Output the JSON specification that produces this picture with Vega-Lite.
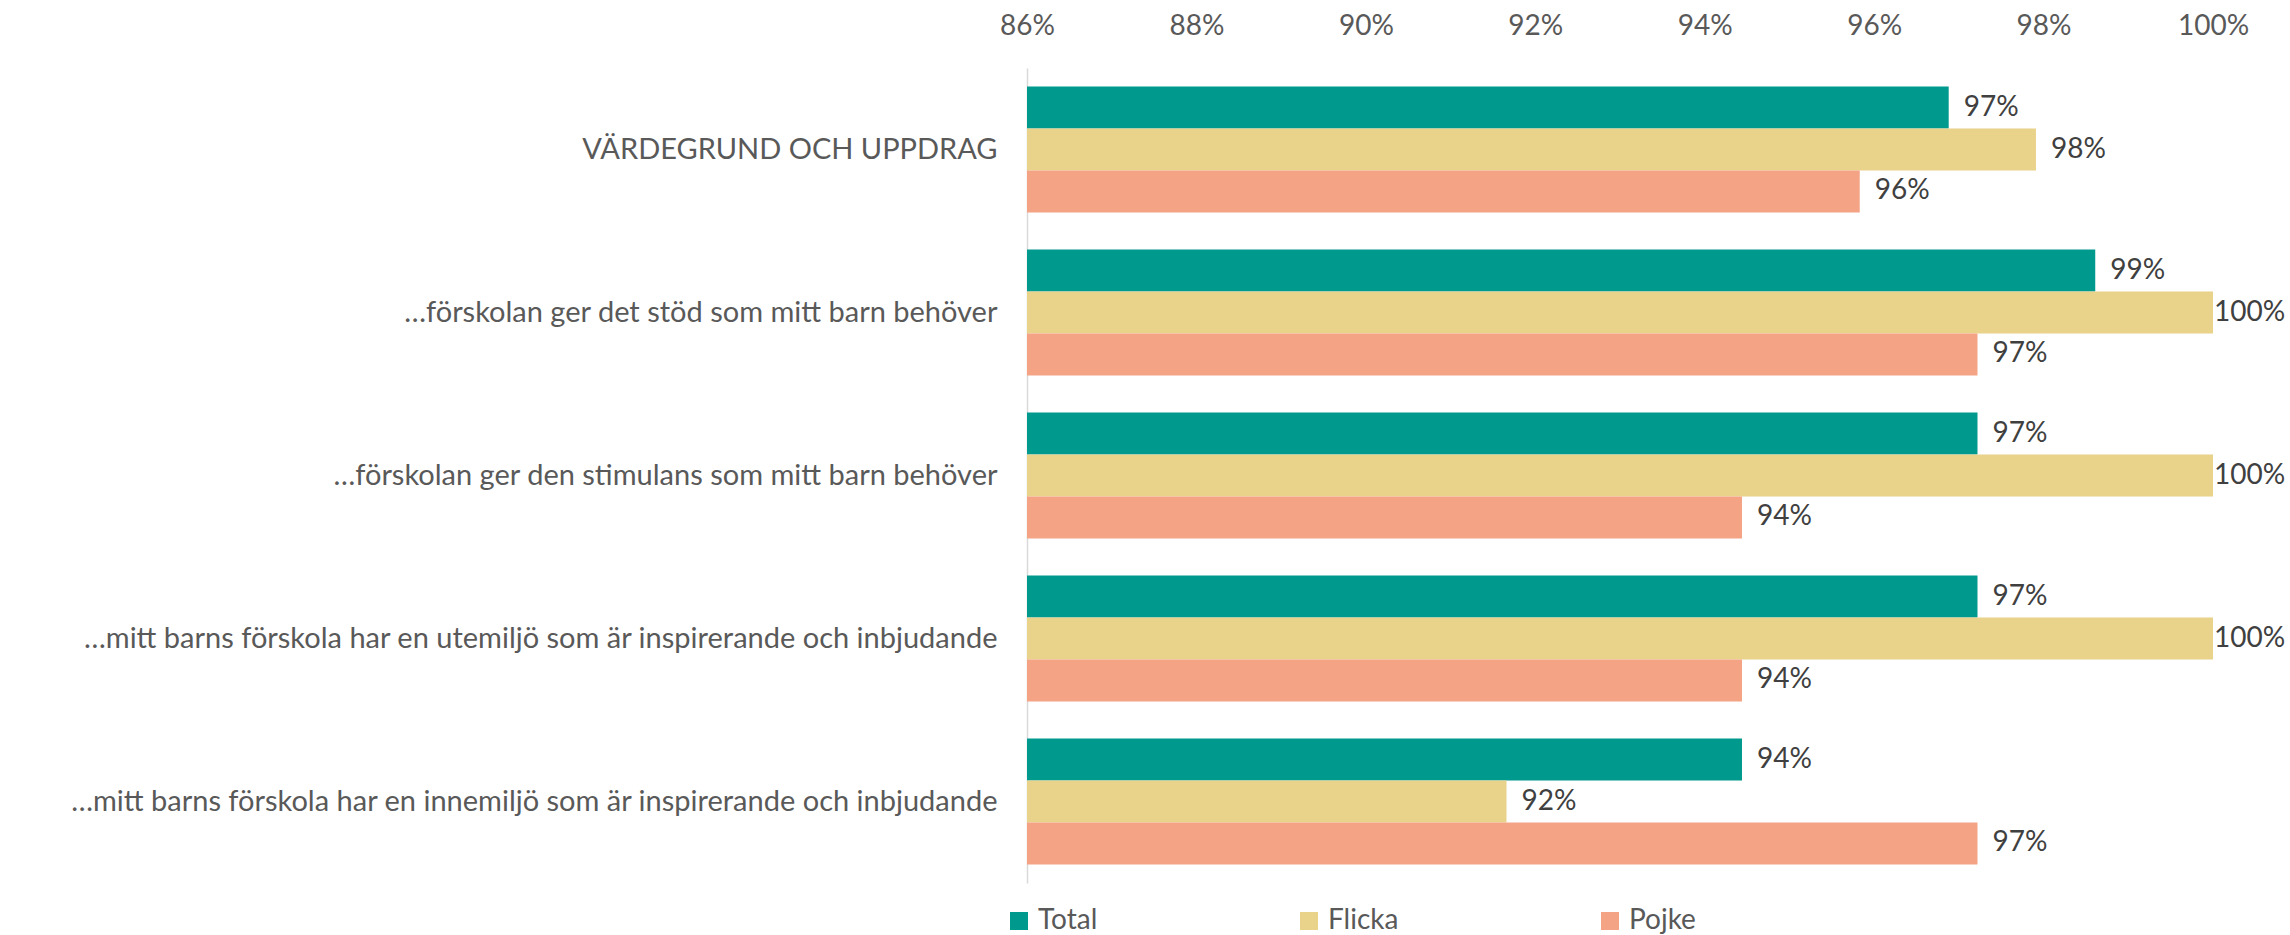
{
  "$schema": "https://vega.github.io/schema/vega-lite/v6.json",
  "autosize": "none",
  "width": 1186,
  "height": 815,
  "padding": {"left": 1027, "top": 68, "right": 77, "bottom": 52},
  "background": "white",
  "config": {
    "view": {"stroke": null},
    "font": "Lato",
    "axis": {"labelFont": "Lato", "labelColor": "#595959"},
    "legend": {"labelFont": "Lato"}
  },
  "data": {
    "values": [
      {"category": "VÄRDEGRUND OCH UPPDRAG", "series": "Total", "value": 0.9688},
      {"category": "VÄRDEGRUND OCH UPPDRAG", "series": "Flicka", "value": 0.9791},
      {"category": "VÄRDEGRUND OCH UPPDRAG", "series": "Pojke", "value": 0.9583},
      {"category": "…förskolan ger det stöd som mitt barn behöver", "series": "Total", "value": 0.9861},
      {"category": "…förskolan ger det stöd som mitt barn behöver", "series": "Flicka", "value": 1.0},
      {"category": "…förskolan ger det stöd som mitt barn behöver", "series": "Pojke", "value": 0.9722},
      {"category": "…förskolan ger den stimulans som mitt barn behöver", "series": "Total", "value": 0.9722},
      {"category": "…förskolan ger den stimulans som mitt barn behöver", "series": "Flicka", "value": 1.0},
      {"category": "…förskolan ger den stimulans som mitt barn behöver", "series": "Pojke", "value": 0.9444},
      {"category": "…mitt barns förskola har en utemiljö som är inspirerande och inbjudande", "series": "Total", "value": 0.9722},
      {"category": "…mitt barns förskola har en utemiljö som är inspirerande och inbjudande", "series": "Flicka", "value": 1.0},
      {"category": "…mitt barns förskola har en utemiljö som är inspirerande och inbjudande", "series": "Pojke", "value": 0.9444},
      {"category": "…mitt barns förskola har en innemiljö som är inspirerande och inbjudande", "series": "Total", "value": 0.9444},
      {"category": "…mitt barns förskola har en innemiljö som är inspirerande och inbjudande", "series": "Flicka", "value": 0.9166},
      {"category": "…mitt barns förskola har en innemiljö som är inspirerande och inbjudande", "series": "Pojke", "value": 0.9722}
    ]
  },
  "encoding": {
    "y": {
      "field": "category",
      "type": "nominal",
      "sort": null,
      "scale": {"paddingInner": 0.227, "paddingOuter": 0.1135},
      "axis": {
        "title": null,
        "ticks": false,
        "domain": true,
        "domainColor": "#d9d9d9",
        "domainWidth": 1.5,
        "labelFontSize": 29,
        "labelPadding": 30,
        "labelLimit": 1100,
        "labelColor": "#595959"
      }
    },
    "yOffset": {
      "field": "series",
      "type": "nominal",
      "sort": ["Total", "Flicka", "Pojke"],
      "scale": {"paddingInner": 0, "paddingOuter": 0}
    },
    "x": {
      "field": "value",
      "type": "quantitative",
      "scale": {"domain": [0.86, 1.0], "zero": false, "nice": false},
      "axis": {
        "orient": "top",
        "title": null,
        "format": ".0%",
        "values": [0.86, 0.88, 0.9, 0.92, 0.94, 0.96, 0.98, 1.0],
        "grid": false,
        "ticks": false,
        "domain": false,
        "labelFlush": false,
        "labelFontSize": 28,
        "labelPadding": 28,
        "labelColor": "#595959"
      }
    }
  },
  "layer": [
    {
      "mark": {"type": "bar"},
      "encoding": {
        "x2": {"datum": 0.86},
        "color": {
          "field": "series",
          "type": "nominal",
          "sort": ["Total", "Flicka", "Pojke"],
          "scale": {"domain": ["Total", "Flicka", "Pojke"], "range": ["#00998D", "#E9D28A", "#F4A485"]},
          "legend": {
            "title": null,
            "orient": "none",
            "direction": "horizontal",
            "legendX": -22,
            "legendY": 839,
            "symbolType": "square",
            "symbolSize": 324,
            "symbolStrokeWidth": 0,
            "labelFontSize": 28,
            "labelColor": "#595959",
            "labelOffset": 5,
            "columnPadding": 197,
            "gridAlign": "none"
          }
        }
      }
    },
    {
      "transform": [{"filter": "datum.value < 0.999"}],
      "mark": {"type": "text", "align": "left", "baseline": "middle", "dx": 15, "fontSize": 28, "color": "#404040"},
      "encoding": {"text": {"field": "value", "type": "quantitative", "format": ".0%"}}
    },
    {
      "transform": [{"filter": "datum.value >= 0.999"}],
      "mark": {"type": "text", "align": "left", "baseline": "middle", "dx": 1, "fontSize": 28, "color": "#404040"},
      "encoding": {"text": {"field": "value", "type": "quantitative", "format": ".0%"}}
    }
  ]
}
